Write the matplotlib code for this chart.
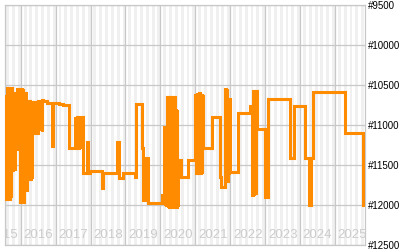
import matplotlib
matplotlib.use("Agg")
import matplotlib.pyplot as plt

plt.rcParams['font.family'] = ['Liberation Sans', 'DejaVu Sans']

# time in decimal years, rank values
t = [2015.55, 2015.57, 2015.59, 2015.61, 2015.63, 2015.65, 2015.67, 2015.69, 2015.71, 2015.73,
     2015.75, 2015.77, 2015.79, 2015.81, 2015.83, 2015.85, 2015.87, 2015.89, 2015.91, 2015.93,
     2015.95, 2015.97, 2015.99, 2016.01, 2016.03, 2016.05, 2016.07, 2016.09, 2016.11, 2016.13,
     2016.15, 2016.17, 2016.19, 2016.21, 2016.23, 2016.25, 2016.27, 2016.29, 2016.31, 2016.33,
     2016.36, 2016.38, 2016.41, 2016.44, 2016.47, 2016.50, 2016.53, 2016.56, 2016.60, 2016.61,
     2016.63, 2016.75, 2016.90, 2016.93, 2017.10, 2017.21, 2017.38, 2017.56, 2017.59, 2017.62,
     2017.65, 2017.68, 2017.71, 2017.74, 2017.77, 2017.79, 2017.90, 2017.93, 2017.97, 2018.33,
     2018.36, 2018.76, 2018.81, 2018.93, 2019.27, 2019.30, 2019.47, 2019.50, 2019.60, 2019.65,
     2020.05, 2020.11, 2020.13, 2020.15, 2020.17, 2020.19, 2020.21, 2020.23, 2020.25, 2020.27,
     2020.29, 2020.31, 2020.33, 2020.35, 2020.37, 2020.39, 2020.41, 2020.43, 2020.45, 2020.47,
     2020.49, 2020.51, 2020.56, 2020.59, 2020.79, 2021.00, 2021.02, 2021.04, 2021.06, 2021.08,
     2021.10, 2021.12, 2021.14, 2021.16, 2021.18, 2021.20, 2021.22, 2021.48, 2021.71, 2021.74,
     2021.85, 2021.87, 2021.89, 2021.91, 2021.93, 2021.95, 2021.97, 2022.00, 2022.23, 2022.57,
     2022.63, 2022.65, 2022.67, 2022.69, 2022.71, 2022.73, 2022.76, 2022.99, 2023.09, 2023.72,
     2023.82, 2024.15, 2024.27, 2024.30, 2024.37, 2025.29, 2025.81, 2025.86]
rank = [11900, 10620, 11920, 10540, 11900, 10540, 11920, 10560, 11900, 10540,
        11560, 10600, 11300, 10600, 11560, 10620, 11300, 10550, 11310, 10550,
        11300, 10560, 11960, 10550, 11960, 10560, 11960, 10600, 11800, 10600,
        11810, 10700, 11250, 10700, 11680, 10700, 11680, 10710, 11660, 10710,
        11100, 10710, 11090, 10710, 11100, 10700, 11050, 10710, 11080, 10690,
        10700, 10720, 11260, 10730, 10740, 10750, 11290, 10910, 11280, 10900,
        11290, 10910, 11280, 10900, 11290, 11600, 11210, 11600, 11580, 11790,
        11600, 11215, 11660, 11600, 11650, 10740, 11290, 11940, 11410, 11980,
        11875, 11020, 11990, 11020, 12000, 10650, 12020, 10650, 12020, 10650,
        12020, 10650, 12020, 10650, 12010, 10650, 12020, 10810, 12020, 10810,
        12000, 11650, 11440, 11650, 11440, 10620, 11600, 10600, 11600, 10620,
        11580, 10600, 11600, 10620, 11600, 10640, 11290, 10900, 11650, 11780,
        10550, 11600, 10560, 11700, 10680, 11600, 10680, 11590, 10850, 10760,
        11875, 10570, 11870, 10570, 11850, 10580, 11050, 11900, 10680, 11415,
        10760, 11415, 12000, 11415, 10585, 11100, 12000, 12000]

years = list(range(2015, 2026))
y_ticks = [9500, 10000, 10500, 11000, 11500, 12000, 12500]
y_labels = ['#' + str(v) for v in y_ticks]

fig = plt.figure(figsize=(4, 2.5), dpi=100)
ax = fig.add_axes([5 / 400, 5 / 250, 360 / 400, 240 / 250])

xmin, xmax = 2015.55, 2025.86
ax.set_xlim(xmin, xmax)
ax.set_ylim(12500, 9500)

# alternating month stripes
for yr in range(2015, 2026):
    for m in range(1, 12, 2):
        ax.axvspan(yr + m / 12, yr + (m + 1) / 12, color='#f0f0f0', lw=0, zorder=0)

grid_c = '#c8c8c8'
ax.set_xticks(years[1:])
ax.set_yticks(y_ticks)
ax.grid(True, color=grid_c, lw=0.9, zorder=1)
ax.set_axisbelow(True)
ax.tick_params(axis='x', length=0, labelbottom=False)
ax.yaxis.tick_right()
ax.tick_params(axis='y', length=0, pad=2, labelsize=7, labelcolor='black')
ax.set_yticklabels(y_labels)
for s in ax.spines.values():
    s.set_color(grid_c)
    s.set_linewidth(0.9)

ax.step(t, rank, where='post', color='#ff8c00', lw=2.2, zorder=3, solid_joinstyle='miter')

for yr in years:
    ax.text(yr + 0.5, 12375, str(yr), ha='center', va='center', color='#cccccc',
            fontsize=9.5, clip_on=True, zorder=2)

fig.savefig('out.png', dpi=100)
